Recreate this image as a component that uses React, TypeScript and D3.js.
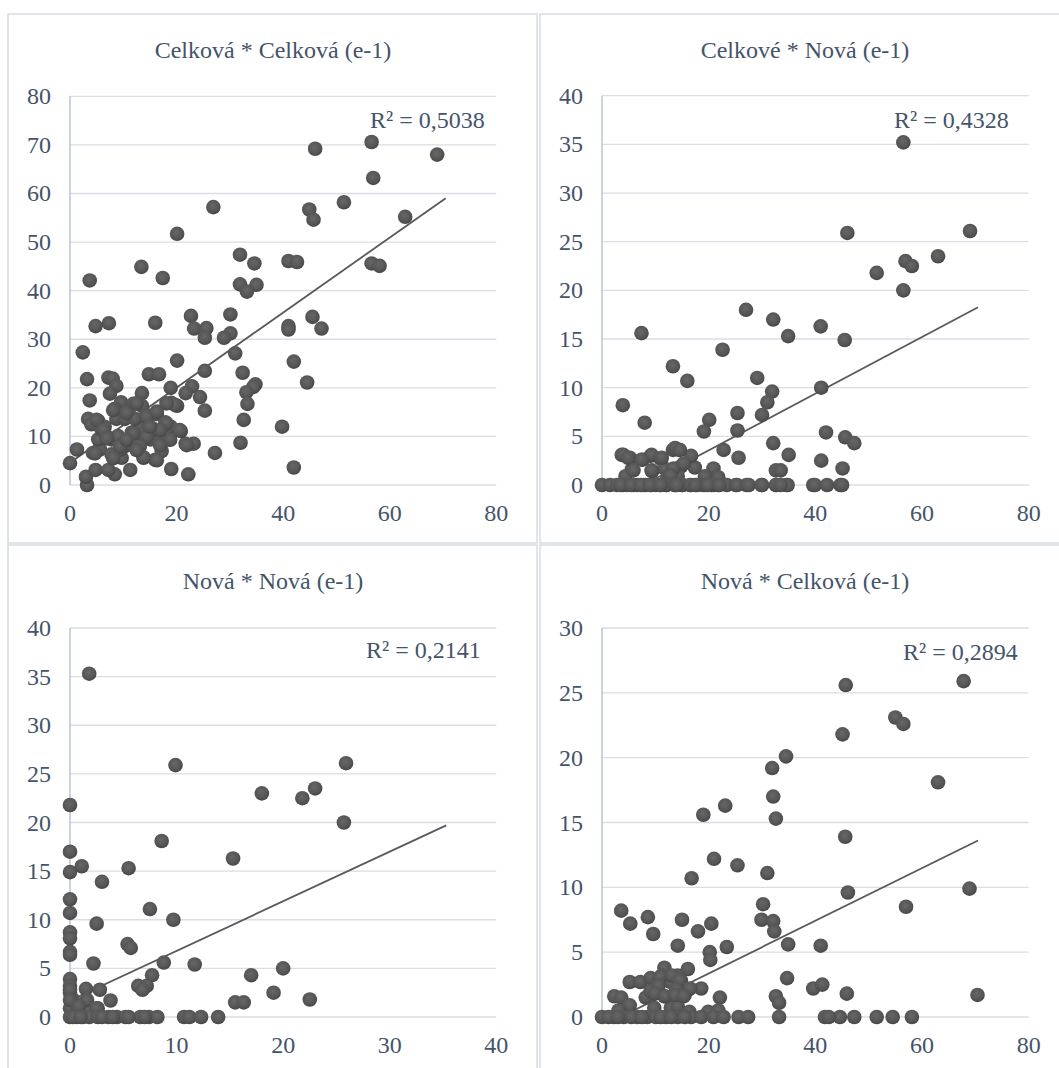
import React from "react";
import * as d3 from "d3";

// ---- Data -----------------------------------------------------------------

// Celková * Celková (e-1)
const p1X = [68.9, 56.6, 46.0, 56.9, 51.4, 62.9, 44.9, 45.7, 26.9, 20.1, 56.6, 58.1, 41.0, 42.6, 31.9, 34.6, 13.4, 17.4, 3.7, 31.9, 35.0, 33.2, 30.1, 45.5, 22.7, 16.0, 7.3, 4.8, 41.0, 41.0, 47.2, 23.3, 25.6, 25.3, 30.1, 28.9, 2.4, 31.0, 42.0, 20.1, 25.3, 32.4, 14.8, 16.7, 3.2, 7.2, 8.0, 44.5, 34.8, 34.4, 8.7, 18.9, 22.9, 21.7, 33.1, 24.4, 7.5, 13.5, 3.7, 19.0, 20.1, 33.3, 25.3, 9.6, 11.9, 8.4, 32.6, 39.8, 32.0, 27.2, 42.0, 19.0, 22.2, 23.2, 21.7, 20.8, 18.9, 18.6, 0, 1.3, 3.2, 3.0, 4.8, 11.3, 8.4, 7.2, 3.4, 5.3, 4.0, 4.3, 5.6, 5.3, 5.9, 6.5, 7.8, 7.8, 8.7, 8.4, 11.0, 10.3, 9.0, 9.7, 10.3, 11.6, 12.2, 12.9, 13.5, 13.8, 14.8, 15.1, 13.7, 16.0, 16.3, 17.2, 17.0, 17.9, 15.7, 12.2, 6.8, 9.5, 19.7, 18.1, 5.0, 8.1, 10.6, 12.5, 14.4, 16.3, 18.1, 20.6, 16.9, 6.25, 11.9, 14.4, 18.8, 21.9, 16.9, 13.1, 9.4, 4.7, 8.1, 13.8, 16.3, 12.5, 10.6, 6.9, 15.0];
const p1Y = [68.0, 70.6, 69.2, 63.2, 58.2, 55.2, 56.7, 54.6, 57.2, 51.7, 45.6, 45.1, 46.1, 45.9, 47.4, 45.6, 44.9, 42.6, 42.1, 41.3, 41.2, 39.8, 35.1, 34.6, 34.8, 33.4, 33.3, 32.7, 32.7, 32.0, 32.2, 32.2, 32.3, 30.3, 31.2, 30.3, 27.3, 27.1, 25.4, 25.6, 23.5, 23.1, 22.8, 22.8, 21.8, 22.1, 21.9, 21.1, 20.7, 20.2, 20.4, 20.0, 20.3, 18.9, 19.1, 18.1, 18.8, 18.9, 17.4, 16.9, 16.3, 16.7, 15.3, 17.0, 16.7, 15.3, 13.4, 12.0, 8.7, 6.6, 3.6, 3.3, 2.2, 8.5, 8.5, 11.1, 12.0, 9.4, 4.5, 7.3, 0, 1.7, 3.1, 3.1, 2.2, 3.1, 13.6, 13.2, 12.5, 6.6, 7.3, 9.4, 11.5, 12.0, 6.3, 9.4, 13.6, 15.7, 15.0, 13.6, 10.1, 5.6, 8.0, 10.8, 8.7, 12.2, 16.3, 5.6, 14.3, 9.4, 10.4, 5.2, 14.6, 7.0, 8.7, 12.9, 11.5, 13.6, 10.1, 7.3, 16.5, 16.8, 13.4, 15.4, 14.8, 16.8, 14.1, 15.1, 12.7, 11.3, 11.3, 11.3, 10.6, 9.9, 9.3, 8.2, 8.2, 7.9, 7.9, 6.5, 5.5, 5.7, 5.1, 7.2, 9.3, 9.6, 12.0];

// Celkové * Nová (e-1)
const p2X = [56.5, 69.0, 46.0, 63.0, 56.9, 58.1, 51.5, 56.5, 27.0, 32.1, 41.0, 7.4, 34.9, 45.5, 22.6, 13.3, 16.0, 29.1, 41.1, 31.9, 31.0, 30.0, 3.9, 8.0, 25.4, 20.1, 19.1, 25.4, 42.0, 45.6, 47.3, 32.1, 22.8, 35.0, 25.6, 41.1, 45.1, 20.9, 17.4, 32.6, 33.5, 16.7, 13.3, 14.5, 3.7, 5.2, 7.6, 9.1, 11.0, 5.6, 4.4, 9.4, 11.7, 13.6, 14.8, 14.2, 12.3, 19.3, 21.8, 13.7, 14.6, 9.3, 11.2, 7.4, 4.0, 4.9, 5.9, 9.3, 13.4, 15.3, 12.8, 0, 1.5, 2.8, 4.0, 4.7, 5.9, 6.6, 7.8, 8.2, 9.3, 10.1, 10.9, 12.0, 12.1, 13.6, 13.7, 15.0, 15.1, 16.5, 16.7, 17.8, 18.9, 19.3, 20.5, 20.9, 21.8, 23.4, 25.1, 25.3, 27.1, 27.5, 29.9, 30.0, 32.6, 32.7, 34.6, 34.8, 39.6, 39.9, 42.2, 44.7, 45.0, 3.5, 5.5, 7.3, 9.0, 11.0, 14.0, 17.5, 19.8, 22.0, 33.5];
const p2Y = [35.2, 26.1, 25.9, 23.5, 23.0, 22.5, 21.8, 20.0, 18.0, 17.0, 16.3, 15.6, 15.3, 14.9, 13.9, 12.2, 10.7, 11.0, 10.0, 9.6, 8.5, 7.2, 8.2, 6.4, 7.4, 6.7, 5.5, 5.6, 5.4, 4.9, 4.3, 4.3, 3.6, 3.1, 2.8, 2.5, 1.7, 1.7, 1.8, 1.5, 1.5, 3.0, 3.6, 3.6, 3.1, 2.8, 2.6, 3.0, 2.7, 1.6, 0.9, 1.4, 1.7, 1.6, 1.9, 0.9, 0.8, 0.9, 0.8, 3.8, 3.6, 3.1, 2.8, 2.6, 3.1, 2.8, 1.5, 1.5, 1.7, 2.2, 1.0, 0, 0, 0, 0, 0, 0, 0, 0, 0, 0, 0, 0, 0, 0, 0, 0, 0, 0, 0, 0, 0, 0, 0, 0, 0, 0, 0, 0, 0, 0, 0, 0, 0, 0, 0, 0, 0, 0, 0, 0, 0, 0, 0, 0, 0, 0, 0, 0, 0, 0, 0, 0, 0];

// Nová * Nová (e-1)
const p3X = [1.8, 25.9, 9.9, 23.0, 18.0, 21.8, 0, 25.7, 8.6, 0, 15.3, 1.1, 5.5, 0, 3.0, 0, 0, 7.5, 9.7, 2.5, 0, 0, 5.4, 5.7, 0, 0, 8.8, 2.2, 11.7, 20.0, 7.7, 17.0, 6.4, 7.2, 6.8, 1.5, 2.8, 19.1, 3.8, 22.5, 15.5, 16.3, 0, 0, 0, 0.25, 0, 0.7, 1.5, 2.6, 1.7, 0, 0, 1.6, 2.5, 0.8, 0, 0.6, 1.2, 1.8, 2.6, 3.6, 4.4, 5.2, 6.6, 7.4, 8.2, 10.7, 11.2, 12.3, 13.9, 0.3, 1.0, 3.0, 4.0, 5.5, 7.0];
const p3Y = [35.3, 26.1, 25.9, 23.5, 23.0, 22.5, 21.8, 20.0, 18.1, 17.0, 16.3, 15.5, 15.3, 14.9, 13.9, 12.1, 10.7, 11.1, 10.0, 9.6, 8.7, 8.1, 7.5, 7.1, 6.7, 6.4, 5.6, 5.5, 5.4, 5.0, 4.3, 4.3, 3.2, 3.2, 2.8, 2.9, 2.8, 2.5, 1.7, 1.8, 1.5, 1.5, 3.9, 3.2, 2.5, 1.8, 0.9, 1.1, 1.6, 0.9, 0.5, 2.8, 1.75, 1.75, 0.9, 1.1, 0, 0, 0, 0, 0, 0, 0, 0, 0, 0, 0, 0, 0, 0, 0, 0, 0, 0, 0, 0, 0];

// Nová * Celková (e-1)
const p4X = [67.8, 45.7, 55.0, 56.5, 45.1, 34.5, 31.9, 63.0, 32.1, 23.1, 32.6, 19.0, 45.6, 21.0, 25.4, 16.8, 31.0, 68.9, 46.1, 57.0, 30.2, 3.6, 8.6, 5.3, 15.0, 20.5, 29.9, 32.1, 32.3, 18.0, 9.6, 14.2, 41.0, 34.9, 23.4, 20.2, 20.3, 11.7, 16.1, 34.7, 39.6, 41.3, 5.2, 7.2, 9.1, 10.4, 11.3, 12.9, 14.2, 14.8, 18.6, 16.1, 22.1, 45.9, 70.4, 32.6, 33.2, 2.3, 3.6, 8.2, 9.1, 11.7, 13.6, 15.5, 5.2, 3.1, 9.8, 12.9, 14.2, 16.4, 19.9, 21.8, 10.9, 13.1, 14.6, 10.6, 13.9, 16.5, 9.9, 11.8, 13.7, 15.3, 0, 2.2, 4.1, 6.6, 8.5, 10.1, 12.0, 14.2, 16.7, 18.6, 20.9, 22.8, 25.6, 27.4, 33.2, 41.8, 44.6, 47.3, 51.5, 54.5, 58.1, 1.2, 3.0, 5.5, 7.5, 11.0, 13.0, 15.5, 42.5];
const p4Y = [25.9, 25.6, 23.1, 22.6, 21.8, 20.1, 19.2, 18.1, 17.0, 16.3, 15.3, 15.6, 13.9, 12.2, 11.7, 10.7, 11.1, 9.9, 9.6, 8.5, 8.7, 8.2, 7.7, 7.2, 7.5, 7.2, 7.5, 7.4, 6.6, 6.6, 6.4, 5.5, 5.5, 5.6, 5.4, 5.0, 4.4, 3.8, 3.7, 3.0, 2.2, 2.5, 2.7, 2.7, 3.0, 2.7, 3.2, 2.7, 3.2, 2.8, 2.2, 2.1, 1.5, 1.8, 1.7, 1.6, 1.1, 1.6, 1.5, 1.5, 2.0, 1.6, 1.7, 1.7, 0.9, 0.5, 0.7, 0.7, 0.8, 0.4, 0.4, 0.5, 3.1, 3.2, 2.85, 2.4, 2.1, 2.2, 1.8, 1.6, 1.7, 1.6, 0, 0, 0, 0, 0, 0, 0, 0, 0, 0, 0, 0, 0, 0, 0, 0, 0, 0, 0, 0, 0, 0, 0, 0, 0, 0, 0, 0, 0];

const titles = ["Celková * Celková (e-1)", "Celkové * Nová (e-1)", "Nová * Nová (e-1)", "Nová * Celková (e-1)"];
const r2Labels = ["R² = 0,5038", "R² = 0,4328", "R² = 0,2141", "R² = 0,2894"];
const xMaxes = [80, 80, 40, 80];
const yMaxes = [80, 40, 40, 30];
const xSteps = [20, 20, 10, 20];
const ySteps = [10, 5, 5, 5];
// linear trendlines: y = slope * x + intercept
const trendSlopes = [0.772, 0.291, 0.51, 0.203];
const trendIntercepts = [4.6, -2.26, 1.7, -0.7];
const trendXMin = [0, 0, 0, 0];
const trendXMax = [70.5, 70.5, 35.3, 70.5];

const seriesX = [p1X, p2X, p3X, p4X];
const seriesY = [p1Y, p2Y, p3Y, p4Y];

// ---- Layout ---------------------------------------------------------------

const W = 1059;
const H = 1068;
const FONT = "'Liberation Serif', 'Times New Roman', serif";
const TEXT = "#44546A";
const GRID = "#D9DEE6";
const AXIS = "#BAC4D3";
const BORDER = "#D6DCE5";
const MARK = "#555555";

const frames = [
  { bx: 8, by: 14, px0: 70, px1: 496.3, py0: 485, py1: 96.3, r2x: 370, r2y: 128 },
  { bx: 540, by: 14, px0: 602, px1: 1028.7, py0: 485, py1: 95.7, r2x: 894, r2y: 128 },
  { bx: 8, by: 545, px0: 70, px1: 496.3, py0: 1017, py1: 628, r2x: 366, r2y: 658 },
  { bx: 540, by: 545, px0: 602, px1: 1028.7, py0: 1017, py1: 628, r2x: 903, r2y: 660 },
];

function Panel({ i }: { i: number }) {
  const f = frames[i];
  const x = d3.scaleLinear().domain([0, xMaxes[i]]).range([f.px0, f.px1]);
  const y = d3.scaleLinear().domain([0, yMaxes[i]]).range([f.py0, f.py1]);
  const xTicks = d3.range(0, xMaxes[i] + 1e-9, xSteps[i]);
  const yTicks = d3.range(0, yMaxes[i] + 1e-9, ySteps[i]);
  const pts = d3.zip(seriesX[i], seriesY[i]);
  const trend = d3
    .line<number>()
    .x((v) => x(v))
    .y((v) => y(trendSlopes[i] * v + trendIntercepts[i]));
  const clipId = `plot-clip-${i}`;

  return (
    <g>
      <rect x={f.bx} y={f.by} width={529} height={529} fill="#fff" stroke={BORDER} strokeWidth={1.5} />
      <clipPath id={clipId}>
        <rect x={f.px0} y={f.py1} width={f.px1 - f.px0} height={f.py0 - f.py1} />
      </clipPath>
      <text x={f.bx + 265} y={f.by + 44} textAnchor="middle" fontSize={24} fill={TEXT} fontFamily={FONT}>
        {titles[i]}
      </text>
      {yTicks.map((t) => (
        <line key={`g${t}`} x1={f.px0} x2={f.px1} y1={y(t)} y2={y(t)} stroke={GRID} strokeWidth={1.3} />
      ))}
      <line x1={f.px0} x2={f.px0} y1={f.py0} y2={f.py1} stroke={AXIS} strokeWidth={1.5} />
      {yTicks.map((t) => (
        <text key={`y${t}`} x={f.px0 - 19} y={y(t) + 8} textAnchor="end" fontSize={24} fill={TEXT} fontFamily={FONT}>
          {t}
        </text>
      ))}
      {xTicks.map((t) => (
        <text key={`x${t}`} x={x(t)} y={f.py0 + 36} textAnchor="middle" fontSize={24} fill={TEXT} fontFamily={FONT}>
          {t}
        </text>
      ))}
      <path
        d={trend([trendXMin[i], trendXMax[i]]) || ""}
        stroke="#595959"
        strokeWidth={1.8}
        fill="none"
        clipPath={`url(#${clipId})`}
      />
      {pts.map(([vx, vy], k) => (
        <circle key={k} cx={x(vx)} cy={y(vy)} r={7.3} fill="url(#dot)" />
      ))}
      <text x={f.r2x} y={f.r2y} fontSize={24} fill={TEXT} fontFamily={FONT}>
        {r2Labels[i]}
      </text>
    </g>
  );
}

export default function App() {
  return (
    <svg
      width={W}
      height={H}
      viewBox={`0 0 ${W} ${H}`}
      style={{ position: "absolute", left: 0, top: 0, display: "block", background: "#fff" }}
    >
      <defs>
        <radialGradient id="dot" cx="45%" cy="40%" r="60%">
          <stop offset="0%" stopColor="#676767" />
          <stop offset="70%" stopColor={MARK} />
          <stop offset="100%" stopColor="#464646" />
        </radialGradient>
      </defs>
      <rect x={0} y={0} width={W} height={H} fill="#fff" />
      {[0, 1, 2, 3].map((i) => (
        <Panel key={i} i={i} />
      ))}
    </svg>
  );
}
